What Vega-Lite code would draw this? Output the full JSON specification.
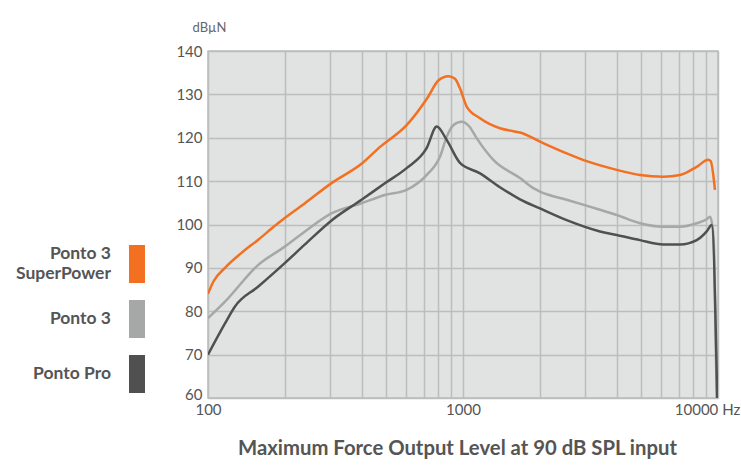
{
  "$schema": "https://vega.github.io/schema/vega-lite/v6.json",
  "width": 510,
  "height": 347,
  "autosize": {"type": "none"},
  "padding": {"left": 208, "top": 51, "right": 23, "bottom": 73},
  "background": "#ffffff",
  "config": {
    "font": "Lato",
    "view": {"fill": "#e1e2e2", "stroke": "#bcbcbc", "strokeWidth": 1.5}
  },
  "data": {
    "values": [
      {"f": 100, "db": 84.0, "s": "Ponto 3 SuperPower"},
      {"f": 104.9, "db": 86.8, "s": "Ponto 3 SuperPower"},
      {"f": 116.6, "db": 90.0, "s": "Ponto 3 SuperPower"},
      {"f": 135, "db": 93.4, "s": "Ponto 3 SuperPower"},
      {"f": 157.5, "db": 96.5, "s": "Ponto 3 SuperPower"},
      {"f": 183, "db": 99.7, "s": "Ponto 3 SuperPower"},
      {"f": 200, "db": 101.5, "s": "Ponto 3 SuperPower"},
      {"f": 240, "db": 104.9, "s": "Ponto 3 SuperPower"},
      {"f": 306, "db": 109.6, "s": "Ponto 3 SuperPower"},
      {"f": 400, "db": 114.0, "s": "Ponto 3 SuperPower"},
      {"f": 473, "db": 117.9, "s": "Ponto 3 SuperPower"},
      {"f": 601, "db": 122.9, "s": "Ponto 3 SuperPower"},
      {"f": 729, "db": 129.4, "s": "Ponto 3 SuperPower"},
      {"f": 800, "db": 133.2, "s": "Ponto 3 SuperPower"},
      {"f": 876, "db": 134.2, "s": "Ponto 3 SuperPower"},
      {"f": 930, "db": 133.6, "s": "Ponto 3 SuperPower"},
      {"f": 973, "db": 131.4, "s": "Ponto 3 SuperPower"},
      {"f": 1034, "db": 127.2, "s": "Ponto 3 SuperPower"},
      {"f": 1166, "db": 124.5, "s": "Ponto 3 SuperPower"},
      {"f": 1396, "db": 122.2, "s": "Ponto 3 SuperPower"},
      {"f": 1575, "db": 121.5, "s": "Ponto 3 SuperPower"},
      {"f": 1673, "db": 121.2, "s": "Ponto 3 SuperPower"},
      {"f": 2004, "db": 119.1, "s": "Ponto 3 SuperPower"},
      {"f": 2550, "db": 116.4, "s": "Ponto 3 SuperPower"},
      {"f": 3055, "db": 114.6, "s": "Ponto 3 SuperPower"},
      {"f": 4006, "db": 112.6, "s": "Ponto 3 SuperPower"},
      {"f": 4943, "db": 111.4, "s": "Ponto 3 SuperPower"},
      {"f": 6103, "db": 111.0, "s": "Ponto 3 SuperPower"},
      {"f": 7100, "db": 111.4, "s": "Ponto 3 SuperPower"},
      {"f": 8250, "db": 113.3, "s": "Ponto 3 SuperPower"},
      {"f": 9160, "db": 114.9, "s": "Ponto 3 SuperPower"},
      {"f": 9360, "db": 114.6, "s": "Ponto 3 SuperPower"},
      {"f": 9730, "db": 108.0, "s": "Ponto 3 SuperPower"},

      {"f": 100, "db": 78.4, "s": "Ponto 3"},
      {"f": 116.6, "db": 82.2, "s": "Ponto 3"},
      {"f": 157.5, "db": 90.7, "s": "Ponto 3"},
      {"f": 200, "db": 94.9, "s": "Ponto 3"},
      {"f": 240, "db": 98.4, "s": "Ponto 3"},
      {"f": 306, "db": 102.6, "s": "Ponto 3"},
      {"f": 400, "db": 104.9, "s": "Ponto 3"},
      {"f": 494, "db": 106.8, "s": "Ponto 3"},
      {"f": 601, "db": 108.0, "s": "Ponto 3"},
      {"f": 720, "db": 111.4, "s": "Ponto 3"},
      {"f": 812, "db": 115.6, "s": "Ponto 3"},
      {"f": 863, "db": 120.2, "s": "Ponto 3"},
      {"f": 916, "db": 122.9, "s": "Ponto 3"},
      {"f": 988, "db": 123.7, "s": "Ponto 3"},
      {"f": 1059, "db": 122.6, "s": "Ponto 3"},
      {"f": 1131, "db": 119.9, "s": "Ponto 3"},
      {"f": 1315, "db": 114.9, "s": "Ponto 3"},
      {"f": 1673, "db": 110.7, "s": "Ponto 3"},
      {"f": 1887, "db": 108.4, "s": "Ponto 3"},
      {"f": 2004, "db": 107.6, "s": "Ponto 3"},
      {"f": 2550, "db": 105.7, "s": "Ponto 3"},
      {"f": 3445, "db": 103.4, "s": "Ponto 3"},
      {"f": 4006, "db": 102.2, "s": "Ponto 3"},
      {"f": 4943, "db": 100.3, "s": "Ponto 3"},
      {"f": 6103, "db": 99.5, "s": "Ponto 3"},
      {"f": 7100, "db": 99.5, "s": "Ponto 3"},
      {"f": 8250, "db": 100.3, "s": "Ponto 3"},
      {"f": 9030, "db": 101.2, "s": "Ponto 3"},
      {"f": 9300, "db": 101.8, "s": "Ponto 3"},
      {"f": 9500, "db": 99.8, "s": "Ponto 3"},
      {"f": 9670, "db": 92.6, "s": "Ponto 3"},
      {"f": 9880, "db": 60, "s": "Ponto 3"},

      {"f": 100, "db": 70.0, "s": "Ponto Pro"},
      {"f": 116.6, "db": 77.2, "s": "Ponto Pro"},
      {"f": 127.6, "db": 81.1, "s": "Ponto Pro"},
      {"f": 157.5, "db": 85.7, "s": "Ponto Pro"},
      {"f": 200, "db": 91.1, "s": "Ponto Pro"},
      {"f": 240, "db": 95.4, "s": "Ponto Pro"},
      {"f": 306, "db": 101.0, "s": "Ponto Pro"},
      {"f": 400, "db": 105.7, "s": "Ponto Pro"},
      {"f": 494, "db": 109.5, "s": "Ponto Pro"},
      {"f": 601, "db": 113.0, "s": "Ponto Pro"},
      {"f": 720, "db": 117.6, "s": "Ponto Pro"},
      {"f": 789, "db": 122.6, "s": "Ponto Pro"},
      {"f": 863, "db": 119.5, "s": "Ponto Pro"},
      {"f": 973, "db": 114.2, "s": "Ponto Pro"},
      {"f": 1166, "db": 111.8, "s": "Ponto Pro"},
      {"f": 1396, "db": 108.6, "s": "Ponto Pro"},
      {"f": 1673, "db": 105.8, "s": "Ponto Pro"},
      {"f": 2004, "db": 103.7, "s": "Ponto Pro"},
      {"f": 2550, "db": 101.0, "s": "Ponto Pro"},
      {"f": 3445, "db": 98.4, "s": "Ponto Pro"},
      {"f": 4006, "db": 97.6, "s": "Ponto Pro"},
      {"f": 4943, "db": 96.4, "s": "Ponto Pro"},
      {"f": 6103, "db": 95.4, "s": "Ponto Pro"},
      {"f": 7100, "db": 95.4, "s": "Ponto Pro"},
      {"f": 8250, "db": 96.4, "s": "Ponto Pro"},
      {"f": 9030, "db": 98.4, "s": "Ponto Pro"},
      {"f": 9450, "db": 99.9, "s": "Ponto Pro"},
      {"f": 9930, "db": 60, "s": "Ponto Pro"}
    ]
  },
  "mark": {"type": "line", "interpolate": "monotone", "strokeWidth": 2.5, "clip": true},
  "encoding": {
    "x": {
      "field": "f",
      "type": "quantitative",
      "scale": {"type": "log", "domain": [100, 10000], "nice": false},
      "axis": {
        "values": [100, 200, 300, 400, 500, 600, 700, 800, 900, 1000, 2000, 3000, 4000, 5000, 6000, 7000, 8000, 9000, 10000],
        "labelExpr": "datum.value == 100 ? '100' : datum.value == 1000 ? '1000' : datum.value == 10000 ? '10000 Hz' : ''",
        "labelOffset": {"condition": {"test": "datum.value == 10000", "value": -11}, "value": 0},
        "labelFontSize": 15,
        "labelColor": "#555555",
        "labelPadding": 4,
        "labelFlush": false,
        "labelOverlap": false,
        "ticks": false,
        "domain": false,
        "grid": true,
        "gridColor": "#bdbdbd",
        "gridWidth": 1.5,
        "gridOpacity": 1,
        "title": "Maximum Force Output Level at 90 dB SPL input",
        "titleFontSize": 20.3,
        "titleFontWeight": "bold",
        "titleColor": "#555555",
        "titleBaseline": "alphabetic",
        "titleX": 249,
        "titleY": 56
      }
    },
    "y": {
      "field": "db",
      "type": "quantitative",
      "scale": {"domain": [60, 140], "nice": false, "zero": false},
      "axis": {
        "values": [60, 70, 80, 90, 100, 110, 120, 130, 140],
        "labelOffset": {"condition": {"test": "datum.value == 60", "value": -4}, "value": 0},
        "labelFontSize": 15,
        "labelColor": "#555555",
        "labelPadding": 6,
        "ticks": false,
        "domain": false,
        "grid": true,
        "gridColor": "#bdbdbd",
        "gridWidth": 1.5,
        "gridOpacity": 1,
        "title": "dBµN",
        "titleAngle": 0,
        "titleAlign": "left",
        "titleBaseline": "middle",
        "titleX": -16,
        "titleY": -24,
        "titleFontSize": 13,
        "titleFontWeight": "normal",
        "titleColor": "#666666"
      }
    },
    "color": {
      "field": "s",
      "type": "nominal",
      "scale": {
        "domain": ["Ponto 3 SuperPower", "Ponto 3", "Ponto Pro"],
        "range": ["#f37021", "#a6a7a7", "#505050"]
      },
      "legend": {
        "orient": "none",
        "legendX": -90,
        "legendY": 194,
        "title": null,
        "padding": 0,
        "symbolType": "M-0.42,-1 L0.42,-1 L0.42,1 L-0.42,1 Z",
        "symbolSize": 1444,
        "symbolStrokeWidth": 0,
        "symbolOpacity": 1,
        "rowPadding": 17,
        "labelAlign": "right",
        "labelOffset": -45,
        "labelFontSize": 17.5,
        "labelFontWeight": "bold",
        "labelColor": "#555555",
        "labelLimit": 200,
        "labelExpr": "datum.label == 'Ponto 3 SuperPower' ? ['Ponto 3', 'SuperPower'] : datum.label",
        "encode": {
          "symbols": {
            "update": {
              "fill": {"scale": "color", "field": "value"},
              "fillOpacity": {"value": 1},
              "strokeWidth": {"value": 0}
            }
          },
          "labels": {
            "update": {
              "dy": {"signal": "datum.value == 'Ponto 3 SuperPower' ? -10 : 0"},
              "lineHeight": {"value": 20}
            }
          }
        }
      }
    }
  }
}
